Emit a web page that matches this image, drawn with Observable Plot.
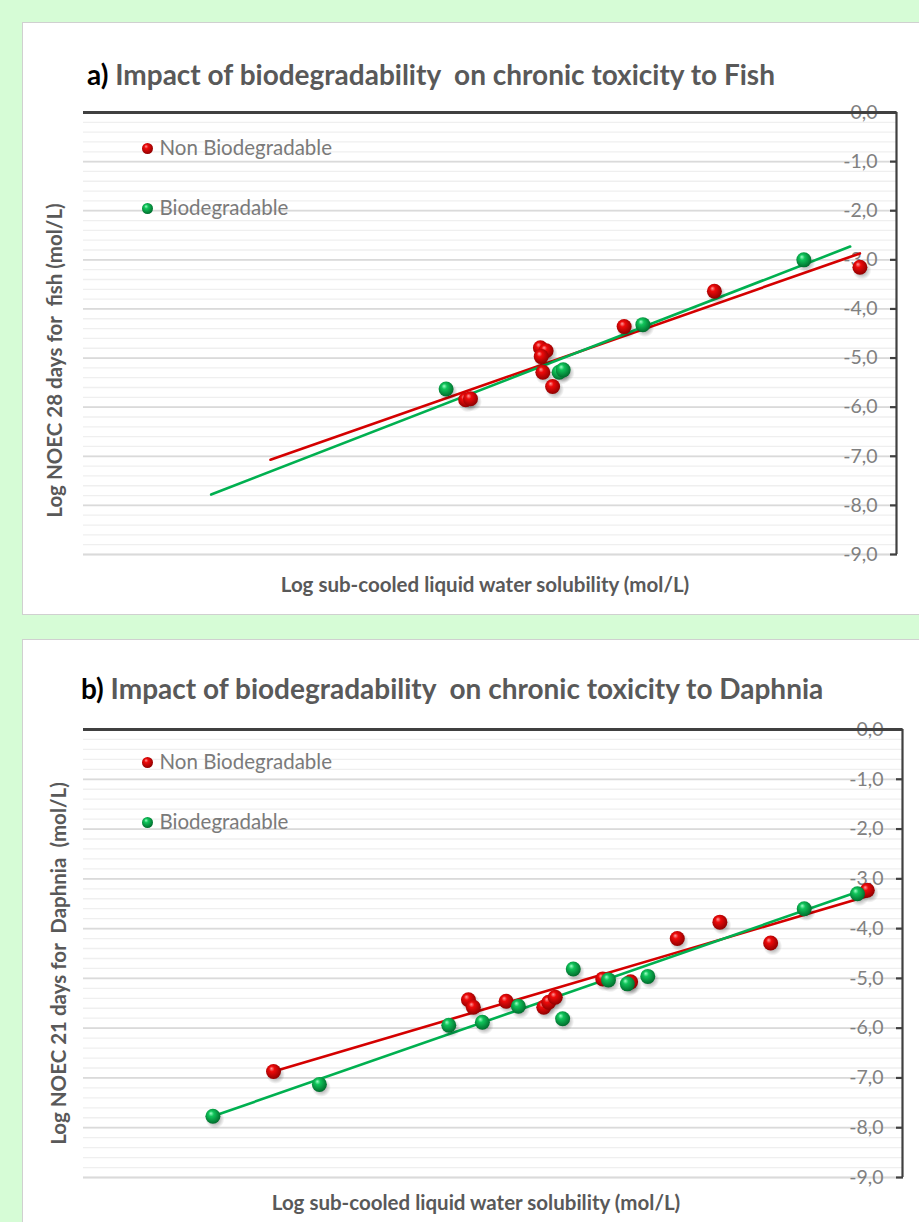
<!DOCTYPE html>
<html><head><meta charset="utf-8">
<script src="https://cdn.jsdelivr.net/npm/d3@7"></script>
<script src="https://cdn.jsdelivr.net/npm/@observablehq/plot@0.6"></script>
<style>
html,body{margin:0;padding:0;}
body{width:919px;height:1222px;overflow:hidden;background:#d6fcd6;position:relative;font-family:Lato, sans-serif;}
.panel{position:absolute;left:22px;width:930px;background:#fff;border:1px solid #d0d0d0;box-sizing:border-box;}
.title{position:absolute;font-weight:bold;font-size:28px;color:#595959;white-space:pre;line-height:28px;}
.title span{color:#000;}
.chart{position:absolute;left:22px;}
</style></head>
<body>
<svg width="0" height="0" style="position:absolute"><defs>
<radialGradient id="gRed" cx="0.45" cy="0.42" r="0.6" fx="0.36" fy="0.3">
<stop offset="0" stop-color="#ff9a9a"/><stop offset="0.3" stop-color="#ee0a0a"/><stop offset="1" stop-color="#8c0000"/>
</radialGradient>
<radialGradient id="gGreen" cx="0.45" cy="0.42" r="0.6" fx="0.36" fy="0.3">
<stop offset="0" stop-color="#9dffc6"/><stop offset="0.3" stop-color="#10c45a"/><stop offset="1" stop-color="#00692b"/>
</radialGradient>
<radialGradient id="gShadow">
<stop offset="0.2" stop-color="#000" stop-opacity="0.38"/><stop offset="1" stop-color="#000" stop-opacity="0"/>
</radialGradient>
</defs></svg>
<div class="panel" style="top:22px;height:593px"></div>
<div class="panel" style="top:639px;height:620px"></div>
<div class="title" id="titleA" style="left:87px;top:60px"></div>
<div class="title" id="titleB" style="left:81px;top:674px"></div>
<div class="chart" id="chartA" style="top:100px"></div>
<div class="chart" id="chartB" style="top:717px"></div>
<script>
// ---- data ----
const panelTitles = ["Impact of biodegradability  on chronic toxicity to Fish", "Impact of biodegradability  on chronic toxicity to Daphnia"];
const panelLetters = ["a)", "b)"];
const seriesNames = ["Non Biodegradable", "Biodegradable"];
const xTitle = "Log sub-cooled liquid water solubility (mol/L)";
const yTitles = ["Log NOEC 28 days for  fish (mol/L)", "Log NOEC 21 days for  Daphnia  (mol/L)"];
const yTicks = [0, -1, -2, -3, -4, -5, -6, -7, -8, -9];
const yTickLabels = ["0,0", "-1,0", "-2,0", "-3,0", "-4,0", "-5,0", "-6,0", "-7,0", "-8,0", "-9,0"];
const yMinorTicks = d3.range(0, 46).map(i => -i * 0.2);
const xDomain = [-10, 0];
const yDomain = [-9, 0];

// Fish (panel a): [log solubility, log NOEC]
const fishNonBio = [[-5.30,-5.85],[-5.24,-5.83],[-4.38,-4.79],[-4.31,-4.85],[-4.37,-4.97],[-4.35,-5.29],[-4.23,-5.58],[-3.35,-4.36],[-2.24,-3.64],[-0.45,-3.15]];
const fishBio = [[-5.54,-5.63],[-4.15,-5.29],[-4.10,-5.24],[-3.12,-4.32],[-1.14,-3.00]];
const fishTrendNonBio = [[-7.70,-7.07],[-0.45,-2.87]];
const fishTrendBio = [[-8.43,-7.78],[-0.57,-2.73]];

// Daphnia (panel b)
const daphNonBio = [[-7.68,-6.87],[-5.30,-5.43],[-5.24,-5.58],[-4.84,-5.46],[-4.38,-5.58],[-4.32,-5.48],[-4.24,-5.38],[-3.66,-5.01],[-3.32,-5.07],[-2.75,-4.20],[-2.23,-3.87],[-1.61,-4.29],[-0.43,-3.23]];
const daphBio = [[-8.42,-7.77],[-7.12,-7.13],[-5.54,-5.94],[-5.13,-5.88],[-4.69,-5.56],[-4.15,-5.81],[-4.02,-4.81],[-3.59,-5.03],[-3.36,-5.11],[-3.11,-4.96],[-1.20,-3.60],[-0.55,-3.30]];
const daphTrendNonBio = [[-7.68,-6.87],[-0.43,-3.35]];
const daphTrendBio = [[-8.42,-7.77],[-0.49,-3.23]];

const redStroke = "#d40000", greenStroke = "#00b050";

function makeTitle(el, i) {
  const d = document.getElementById(el);
  const s = document.createElement("span"); s.textContent = panelLetters[i];
  d.appendChild(s);
  d.appendChild(document.createTextNode(" " + panelTitles[i]));
}
makeTitle("titleA", 0); makeTitle("titleB", 1);

function panel(o) {
  const mt = 12, mb = 45, ml = 61, W = 897;
  const X = d => d[0], Y = d => d[1];
  return Plot.plot({
    width: W, height: mt + o.plotHeight + mb,
    marginTop: mt, marginBottom: mb, marginLeft: ml, marginRight: W - ml - o.plotWidth,
    x: {domain: xDomain, axis: null},
    y: {domain: yDomain},
    style: {fontFamily: "Lato, sans-serif", background: "transparent", overflow: "visible"},
    marks: [
      Plot.ruleY(yMinorTicks, {stroke: "#efefef", strokeWidth: 1.3}),
      Plot.ruleY(yTicks, {stroke: "#dadada", strokeWidth: 1.8}),
      Plot.ruleX([xDomain[1]], {stroke: "#404040", strokeWidth: 2.2}),
      Plot.axisY(yTicks, {anchor: "right", tickSize: 7, dx: -7, tickFormat: () => "", color: "#404040", strokeWidth: 2.2, label: null}),
      Plot.axisY(yTicks, {anchor: "right", tickSize: 0, tickPadding: 0, dx: -19, textAnchor: "end",
        tickFormat: d => yTickLabels[yTicks.indexOf(d)], color: "#808080", fontSize: 19.5, label: null}),
      Plot.ruleY([yDomain[1]], {stroke: "#404040", strokeWidth: 3}),
      Plot.line(o.trendNonBio, {x: X, y: Y, stroke: redStroke, strokeWidth: 2.6}),
      Plot.line(o.trendBio, {x: X, y: Y, stroke: greenStroke, strokeWidth: 2.6}),
      Plot.dot(o.nonBio, {x: X, y: Y, r: 9.5, dx: 2, dy: 3, fill: "url(#gShadow)"}),
      Plot.dot(o.bio, {x: X, y: Y, r: 9.5, dx: 2, dy: 3, fill: "url(#gShadow)"}),
      Plot.dot(o.nonBio, {x: X, y: Y, r: 7.5, fill: "url(#gRed)"}),
      Plot.dot(o.bio, {x: X, y: Y, r: 7.5, fill: "url(#gGreen)"}),
      // legend
      Plot.dot([0], {frameAnchor: "top-left", dx: 64, dy: o.legendDy[0], r: 5.5, fill: "url(#gRed)"}),
      Plot.dot([0], {frameAnchor: "top-left", dx: 64, dy: o.legendDy[1], r: 5.5, fill: "url(#gGreen)"}),
      Plot.text([seriesNames[0]], {frameAnchor: "top-left", dx: 76, dy: o.legendDy[0], textAnchor: "start", lineAnchor: "middle", fontSize: 20.5, fill: "#7a7a7a"}),
      Plot.text([seriesNames[1]], {frameAnchor: "top-left", dx: 76, dy: o.legendDy[1], textAnchor: "start", lineAnchor: "middle", fontSize: 20.5, fill: "#7a7a7a"}),
      // axis titles
      Plot.text([o.yTitle], {frameAnchor: "left", textAnchor: "middle", lineAnchor: "middle", rotate: -90, dx: o.yTitleDx, dy: o.yTitleDy, fontSize: 20.5, fontWeight: "bold", fill: "#595959"}),
      Plot.text([xTitle], {frameAnchor: "bottom", textAnchor: "middle", lineAnchor: "middle", dx: o.xTitleDx, dy: o.xTitleDy, fontSize: 20.5, fontWeight: "bold", fill: "#595959"})
    ]
  });
}

const a = panel({nonBio: fishNonBio, bio: fishBio, trendNonBio: fishTrendNonBio, trendBio: fishTrendBio,
  plotHeight: 442, plotWidth: 813, legendDy: [36, 96], yTitle: yTitles[0], yTitleDx: -28, yTitleDy: 27, xTitleDx: -5, xTitleDy: 31});
const b = panel({nonBio: daphNonBio, bio: daphBio, trendNonBio: daphTrendNonBio, trendBio: daphTrendBio,
  plotHeight: 448, plotWidth: 819, legendDy: [33, 93], yTitle: yTitles[1], yTitleDx: -24, yTitleDy: 10, xTitleDx: -17, xTitleDy: 26});
document.getElementById("chartA").appendChild(a);
document.getElementById("chartB").appendChild(b);
d3.selectAll("svg text").style("white-space", "pre");
</script>
</body></html>
